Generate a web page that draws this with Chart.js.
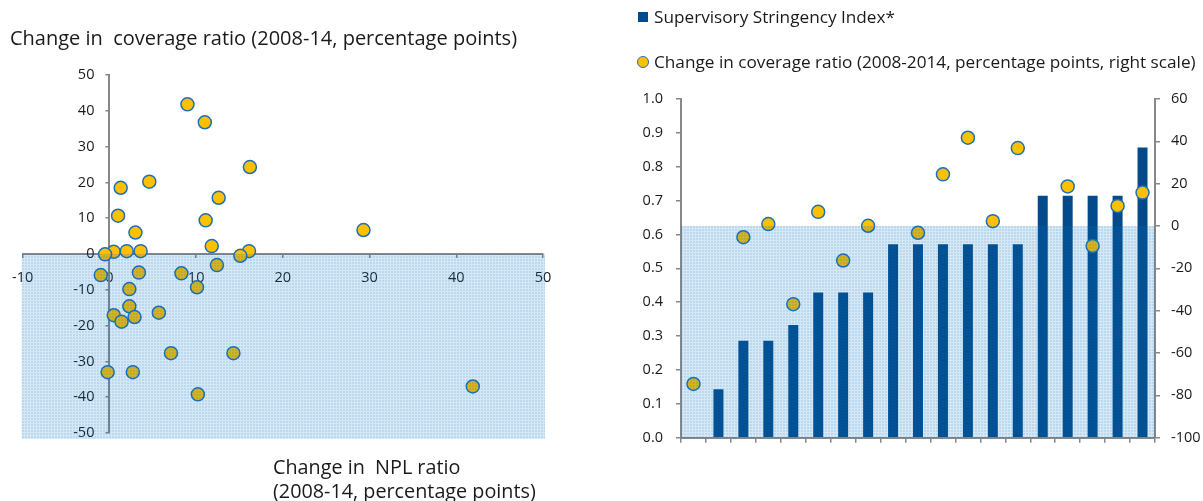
<!DOCTYPE html>
<html>
<head>
<meta charset="utf-8">
<script src="https://cdn.jsdelivr.net/npm/chart.js@4.4.1/dist/chart.umd.min.js"></script>
<style>
  body { margin: 0; background: #fff; font-family: 'Open Sans', sans-serif; color: #1a1a1a; }
  #page { position: relative; width: 1203px; height: 501px; overflow: hidden; }
  .wrap { position: absolute; top: 0; height: 501px; }
  .txt { position: absolute; white-space: pre; line-height: 24px; }
  .sq { position: absolute; left: 638px; top: 12px; width: 10px; height: 10px; background: #034a8a; }
  .dot { position: absolute; left: 637px; top: 56px; width: 12px; height: 12px; box-sizing: border-box;
         border-radius: 50%; background: #ffc000; border: 1.5px solid #1f6fb5; }
</style>
</head>
<body>
<div id="page">
  <div class="wrap" style="left:0;width:590px"><canvas id="scatter"></canvas></div>
  <div class="wrap" style="left:590px;width:613px"><canvas id="combo"></canvas></div>
  <div class="txt" style="left:10px;top:26px;font-size:20px">Change in  coverage ratio (2008-14, percentage points)</div>
  <div class="txt" style="left:273px;top:455px;font-size:19.8px">Change in  NPL ratio
(2008-14, percentage points)</div>
  <div class="sq"></div>
  <div class="txt" style="left:654px;top:5px;font-size:17.2px">Supervisory Stringency Index*</div>
  <div class="dot"></div>
  <div class="txt" style="left:654px;top:50px;font-size:17.2px">Change in coverage ratio (2008-2014, percentage points, right scale)</div>
</div>
<script>
// left panel: change in NPL ratio vs change in coverage ratio, one point per country
const nplChange = [9.0, 11.0, 16.2, 4.6, 1.3, 12.6, 1.0, 11.1, 3.0, 29.3, 11.8, 16.1, 0.5, 2.0, 3.6, -0.5, 15.1,
  12.4, -1.0, 3.4, 8.3, 10.1, 2.3, 2.3, 5.7, 0.5, 2.9, 1.4, 7.1, 14.3, -0.2, 2.7, 10.2, 41.9]
const coverageChange = [41.8, 36.8, 24.3, 20.2, 18.5, 15.7, 10.7, 9.4, 6.0, 6.7, 2.2, 0.8, 0.6, 0.8, 0.8, -0.1, -0.5,
  -3.1, -5.9, -5.2, -5.4, -9.3, -9.8, -14.6, -16.4, -17.1, -17.6, -18.9, -27.7, -27.7, -33.0, -33.0, -39.2, -37.0]

// right panel: countries (unlabelled in the original), stringency index and coverage change
const countries = ['1', '2', '3', '4', '5', '6', '7', '8', '9', '10', '11', '12', '13', '14', '15', '16', '17', '18', '19']
const stringency = [0, 0.143, 0.286, 0.286, 0.333, 0.429, 0.429, 0.429, 0.571, 0.571, 0.571, 0.571, 0.571, 0.571,
  0.714, 0.714, 0.714, 0.714, 0.857]
const coverageByCountry = [-74.6, null, -5.3, 0.9, -36.9, 6.7, -16.3, 0.1, null, -3.2, 24.4, 41.7, 2.3, 36.8, null,
  18.7, -9.4, 9.5, 15.8]

const gold = '#ffc000'
const ring = '#1f6fb5'
const navy = '#034a8a'
const axisGrey = '#888888'
const textCol = '#1a1a1a'
const tickFont = { family: "'Open Sans', sans-serif", size: 14.5 }

Chart.defaults.font.family = "'Open Sans', sans-serif"

function shadePattern(ctx) {
  const c = document.createElement('canvas')
  c.width = 3
  c.height = 3
  const g = c.getContext('2d')
  g.fillStyle = 'rgba(0,112,192,0.27)'
  g.fillRect(1, 1, 2, 2)
  g.fillStyle = 'rgba(0,112,192,0.16)'
  g.fillRect(0, 0, 3, 1)
  g.fillRect(0, 1, 1, 2)
  return ctx.createPattern(c, 'repeat')
}

// light blue band below the zero line, laid over the marks
const shade = {
  id: 'shade',
  afterDatasetsDraw(chart, args, opts) {
    const { ctx, chartArea: a } = chart
    const y0 = chart.scales[opts.axis].getPixelForValue(0)
    ctx.save()
    ctx.fillStyle = shadePattern(ctx)
    ctx.fillRect(a.left - opts.l, y0, a.right - a.left + opts.l + opts.r, a.bottom + opts.b - y0)
    ctx.restore()
  }
}

// move the axes of the scatter so they cross at the origin
const crossAxes = {
  id: 'crossAxes',
  afterLayout(chart) {
    const { x, y } = chart.scales
    const x0 = x.getPixelForValue(0)
    const y0 = y.getPixelForValue(0)
    y.left = x0 - 80
    y.right = x0
    x.top = y0
    x.bottom = y0 + 40
  }
}

new Chart(document.getElementById('scatter'), {
  type: 'scatter',
  data: {
    datasets: [{
      data: nplChange.map((x, i) => ({ x, y: coverageChange[i] })),
      backgroundColor: gold,
      borderColor: ring,
      borderWidth: 1.5,
      pointRadius: 6.5,
    }]
  },
  options: {
    responsive: true,
    maintainAspectRatio: false,
    animation: false,
    layout: { padding: { left: 22.7, right: 47, top: 75, bottom: 68 } },
    plugins: {
      legend: { display: false },
      tooltip: { enabled: false },
      shade: { axis: 'y', l: 1, r: 2, b: 6 },
    },
    scales: {
      x: {
        type: 'linear', position: 'bottom', min: -10, max: 50,
        afterFit: s => { s.height = 0 },
        ticks: { stepSize: 10, color: textCol, font: tickFont, padding: 11, maxRotation: 0 },
        grid: { drawOnChartArea: false, tickLength: 4, color: axisGrey, lineWidth: 1.5 },
        border: { color: axisGrey, width: 2 },
      },
      y: {
        type: 'linear', position: 'left', min: -50, max: 50,
        afterFit: s => { s.width = 0 },
        ticks: { stepSize: 10, color: textCol, font: tickFont, padding: 11 },
        grid: { drawOnChartArea: false, tickLength: 4, color: axisGrey, lineWidth: 1.5 },
        border: { color: axisGrey, width: 2 },
      },
    },
  },
  plugins: [crossAxes, shade],
})

new Chart(document.getElementById('combo'), {
  data: {
    labels: countries,
    datasets: [{
      type: 'line',
      label: 'Change in coverage ratio (2008-2014, percentage points, right scale)',
      data: coverageByCountry,
      yAxisID: 'y1',
      showLine: false,
      order: 0,
      pointRadius: 6.5,
      pointBackgroundColor: gold,
      pointBorderColor: ring,
      pointBorderWidth: 1.5,
    }, {
      type: 'bar',
      label: 'Supervisory Stringency Index*',
      data: stringency,
      yAxisID: 'y',
      order: 1,
      backgroundColor: navy,
      barPercentage: 0.4,
      categoryPercentage: 1,
    }]
  },
  options: {
    responsive: true,
    maintainAspectRatio: false,
    animation: false,
    layout: { padding: { left: 21, right: 0, top: 99, bottom: 33.3 } },
    plugins: {
      legend: { display: false },
      tooltip: { enabled: false },
      shade: { axis: 'y1', l: 0, r: 0, b: 0 },
    },
    scales: {
      x: {
        type: 'category',
        afterFit: s => { s.height = 30 },
        ticks: { display: false },
        grid: { offset: true, drawOnChartArea: false, tickLength: 5, color: axisGrey, lineWidth: 1.5 },
        border: { color: axisGrey, width: 2 },
      },
      y: {
        position: 'left', min: 0, max: 1,
        afterFit: s => { s.width = 70 },
        ticks: { stepSize: 0.1, color: textCol, font: tickFont, padding: 13, callback: v => Number(v).toFixed(1) },
        grid: { drawOnChartArea: false, tickLength: 5, color: axisGrey, lineWidth: 1.5 },
        border: { color: axisGrey, width: 2 },
      },
      y1: {
        position: 'right', min: -100, max: 60,
        afterFit: s => { s.width = 48 },
        ticks: { stepSize: 20, color: textCol, font: tickFont, padding: 11 },
        grid: { drawOnChartArea: false, tickLength: 5, color: axisGrey, lineWidth: 1.5 },
        border: { color: axisGrey, width: 2 },
      },
    },
  },
  plugins: [shade],
})
</script>
</body>
</html>
